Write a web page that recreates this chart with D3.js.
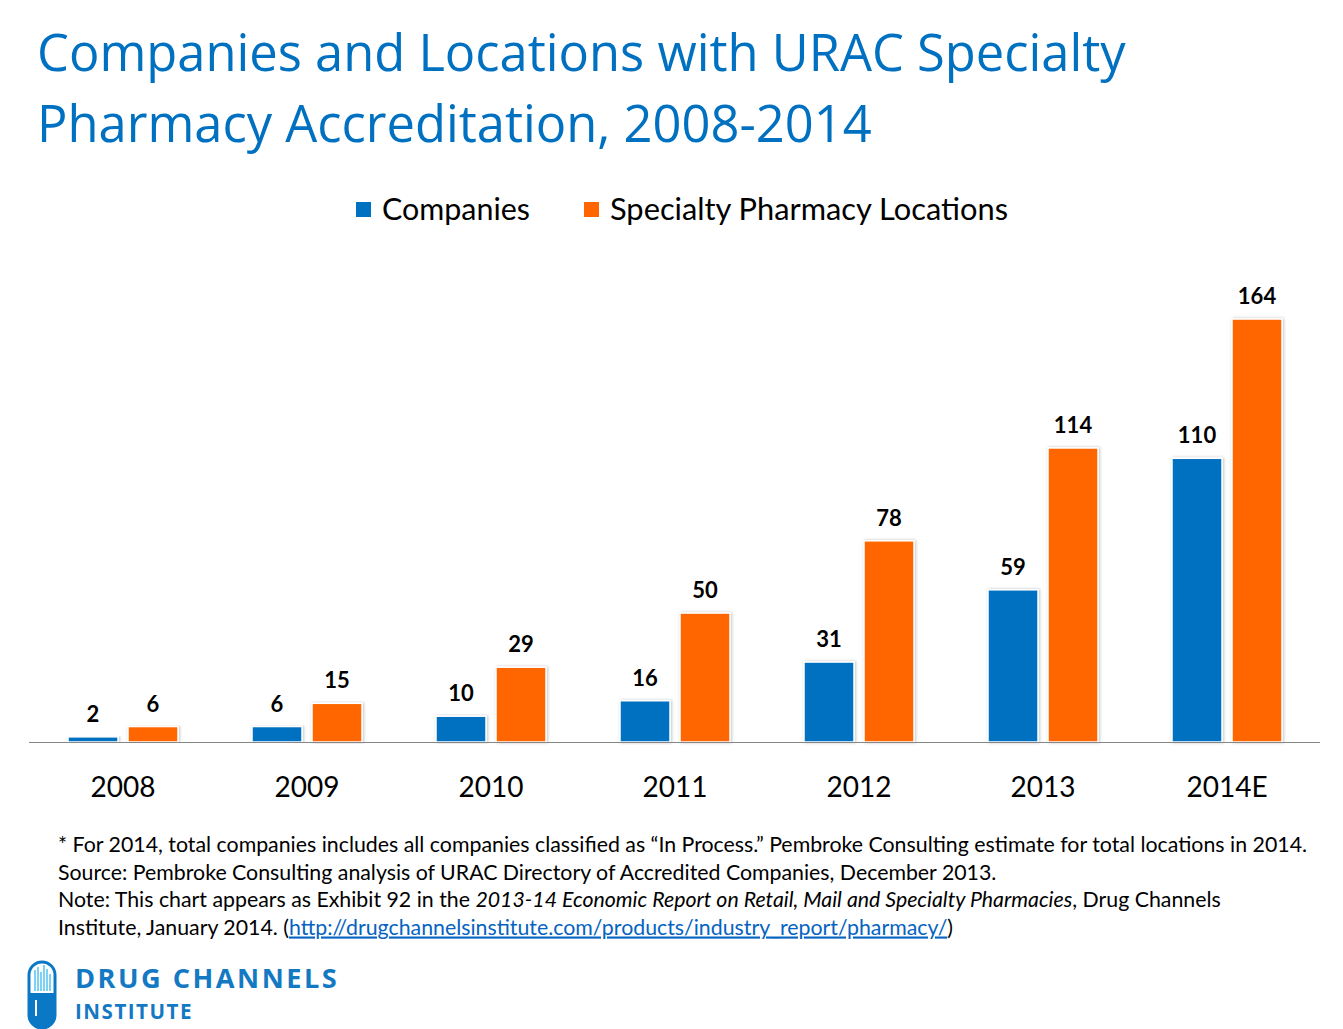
<!DOCTYPE html>
<html>
<head>
<meta charset="utf-8">
<script src="https://cdn.jsdelivr.net/npm/d3@7"></script>
<style>
  body { margin: 0; background: #fff; }
  svg { display: block; }
</style>
</head>
<body>
<div id="chart"></div>
<script>
const years = ["2008", "2009", "2010", "2011", "2012", "2013", "2014E"];
const companies = [2, 6, 10, 16, 31, 59, 110];
const locations = [6, 15, 29, 50, 78, 114, 164];
const seriesNames = ["Companies", "Specialty Pharmacy Locations"];
const seriesColors = ["#0070C0", "#FF6600"];
const titleLines = [
  "Companies and Locations with URAC Specialty",
  "Pharmacy Accreditation, 2008-2014"
];

const W = 1343, H = 1029;
const bodyFont = "Lato, 'Open Sans', sans-serif";

const svg = d3.select("#chart").append("svg")
  .attr("width", W).attr("height", H);

const defs = svg.append("defs");
const shadow = defs.append("filter").attr("id", "shadow")
  .attr("x", "-20%").attr("y", "-5%").attr("width", "140%").attr("height", "110%");
shadow.append("feDropShadow")
  .attr("dx", 1).attr("dy", 0).attr("stdDeviation", 1.5)
  .attr("flood-color", "#000").attr("flood-opacity", 0.25);

// scale text so it spans a given width
const fitWidth = (sel, target) => {
  const node = sel.node();
  const fs = parseFloat(sel.attr("font-size"));
  const w = node.getComputedTextLength();
  sel.attr("font-size", (fs * target / w).toFixed(2));
  return fs * target / w;
};

// title
titleLines.forEach((line, i) => {
  const t = svg.append("text")
    .attr("x", 37).attr("y", 71 + i * 71)
    .attr("font-family", "'Open Sans', sans-serif")
    .attr("font-size", 47)
    .attr("fill", "#0070C0")
    .text(line);
  if (i === 0) fitWidth(t, 1089);
  else t.attr("font-size", svg.select("text").attr("font-size"));
});

// legend
const legend = svg.append("g");
const legendX = [356, 584];
const legendW = [148, 398];
seriesNames.forEach((name, i) => {
  legend.append("rect")
    .attr("x", legendX[i]).attr("y", 202)
    .attr("width", 15).attr("height", 15)
    .attr("fill", seriesColors[i]);
  const t = legend.append("text")
    .attr("x", legendX[i] + 26).attr("y", 220)
    .attr("font-family", bodyFont).attr("font-size", 29)
    .attr("fill", "#000")
    .text(name);
  fitWidth(t, legendW[i]);
});

// scales
const baseline = 742;
const x = d3.scaleBand().domain(years).range([31, 1319]).padding(0);
const x1 = d3.scaleBand().domain(seriesNames).range([37, 147]).paddingInner(1 / 6);
const y = d3.scaleLinear().domain([0, 164]).range([baseline, 319]);

const rows = years.map((yr, i) => ({ year: yr, values: [companies[i], locations[i]] }));

const groups = svg.append("g").selectAll("g").data(rows).join("g")
  .attr("transform", d => `translate(${x(d.year)},0)`);

groups.selectAll("rect")
  .data(d => d.values.map((v, k) => ({ v, k })))
  .join("rect")
  .attr("x", d => x1(seriesNames[d.k]))
  .attr("width", x1.bandwidth())
  .attr("y", d => y(d.v))
  .attr("height", d => baseline - y(d.v))
  .attr("fill", d => seriesColors[d.k])
  .attr("stroke", "#fff")
  .attr("stroke-width", 1.5)
  .attr("filter", "url(#shadow)");

groups.selectAll("text.val")
  .data(d => d.values.map((v, k) => ({ v, k })))
  .join("text")
  .attr("class", "val")
  .attr("x", d => x1(seriesNames[d.k]) + x1.bandwidth() / 2)
  .attr("y", d => y(d.v) - 15)
  .attr("text-anchor", "middle")
  .attr("font-family", bodyFont)
  .attr("font-weight", "bold")
  .attr("font-size", 22)
  .attr("fill", "#000")
  .text(d => d.v);

// x axis
const xAxis = svg.append("g")
  .attr("transform", `translate(0,${baseline})`)
  .call(d3.axisBottom(x).tickSize(0).tickPadding(40));
xAxis.select(".domain").attr("stroke", "#868686").attr("stroke-width", 1.2)
  .attr("d", "M-1,0.5H1290").attr("transform", "translate(30,0)");
xAxis.selectAll(".tick text")
  .attr("font-family", bodyFont)
  .attr("font-size", 28)
  .attr("fill", "#000")
  .attr("dy", "0.55em");

// footnotes
const notes = svg.append("g").attr("font-family", bodyFont).attr("fill", "#000");
const n1 = notes.append("text").attr("x", 58).attr("y", 852).attr("font-size", 20)
  .text("* For 2014, total companies includes all companies classified as \u201CIn Process.\u201D Pembroke Consulting estimate for total locations in 2014.");
const fs = fitWidth(n1, 1249);
notes.append("text").attr("x", 58).attr("y", 879.5).attr("font-size", fs)
  .text("Source: Pembroke Consulting analysis of URAC Directory of Accredited Companies, December 2013.");
const n3 = notes.append("text").attr("x", 58).attr("y", 907).attr("font-size", fs);
n3.append("tspan").text("Note: This chart appears as Exhibit 92 in the ");
n3.append("tspan").attr("font-style", "italic").text("2013-14 Economic Report on Retail, Mail and Specialty Pharmacies");
n3.append("tspan").text(", Drug Channels");
const n4 = notes.append("text").attr("x", 58).attr("y", 934.5).attr("font-size", fs);
n4.append("tspan").text("Institute, January 2014.  (");
n4.append("tspan").attr("fill", "#0563C1").style("text-decoration", "underline")
  .text("http://drugchannelsinstitute.com/products/industry_report/pharmacy/");
n4.append("tspan").text(")");

// logo
const logo = svg.append("g").attr("transform", "translate(29,962)");
const pw = 26, ph = 66, r = 13;
logo.append("path")
  .attr("d", `M0,${r}A${r},${r} 0 0 1 ${pw},${r}V${ph - r}A${r},${r} 0 0 1 0,${ph - r}Z`)
  .attr("fill", "#fff").attr("stroke", "#0A78C4").attr("stroke-width", 3);
logo.append("path")
  .attr("d", `M0,31H${pw}V${ph - r}A${r},${r} 0 0 1 0,${ph - r}Z`)
  .attr("fill", "#0A78C4");
const logoBars = [[6, 8], [9, 5], [12, 10], [15, 3], [18, 7], [21, 12]];
logoBars.forEach(([bx, by]) => {
  logo.append("line").attr("x1", bx).attr("x2", bx).attr("y1", by).attr("y2", 29)
    .attr("stroke", "#4FC3F0").attr("stroke-width", 1.5);
});
logo.append("line").attr("x1", 7).attr("x2", 7).attr("y1", 38).attr("y2", 54)
  .attr("stroke", "#fff").attr("stroke-width", 2);

const lt1 = svg.append("text").attr("x", 75).attr("y", 988)
  .attr("font-family", "'Open Sans', sans-serif").attr("font-weight", 700)
  .attr("font-size", 20).attr("letter-spacing", 2.5).attr("fill", "#1479C3")
  .text("DRUG CHANNELS");
fitWidth(lt1, 276);
const lt2 = svg.append("text").attr("x", 75).attr("y", 1019)
  .attr("font-family", "'Open Sans', sans-serif").attr("font-weight", 700)
  .attr("font-size", 18).attr("letter-spacing", 1.5).attr("fill", "#1479C3")
  .text("INSTITUTE");
fitWidth(lt2, 120);
</script>
</body>
</html>
